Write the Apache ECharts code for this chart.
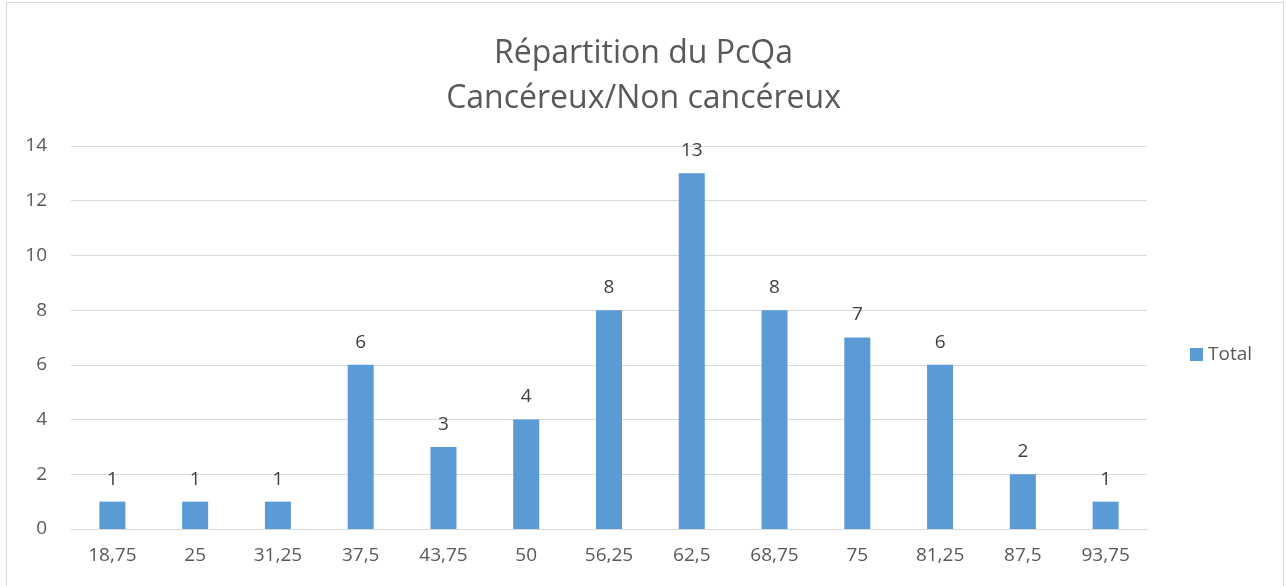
<!DOCTYPE html>
<html>
<head>
<meta charset="utf-8">
<script src="https://cdn.jsdelivr.net/npm/echarts@6/dist/echarts.min.js"></script>
<style>
  html, body { margin: 0; padding: 0; background: #fff; }
  #frame { position: absolute; left: 6px; top: 2px; width: 1276px; height: 610px; border: 1px solid #d9d9d9; }
  #chart { position: absolute; left: 0; top: 0; width: 1287px; height: 586px; }
</style>
</head>
<body>
<div id="frame"></div>
<div id="chart"></div>
<script>
// tranches de PcQa
const categories = ['18,75', '25', '31,25', '37,5', '43,75', '50', '56,25', '62,5', '68,75', '75', '81,25', '87,5', '93,75'];
const totals = [1, 1, 1, 6, 3, 4, 8, 13, 8, 7, 6, 2, 1];
const titleLines = ['Répartition du PcQa', 'Cancéreux/Non cancéreux'];
const seriesName = 'Total';

const chart = echarts.init(document.getElementById('chart'));
const font = '"Open Sans", "Noto Sans", sans-serif';

chart.setOption({
    animation: false,
    textStyle: { fontFamily: font },
    title: {
        text: titleLines.join('\n'),
        left: 'center',
        top: 26,
        textStyle: {
            fontFamily: font,
            fontSize: 32,
            fontWeight: 'normal',
            color: '#595959',
            lineHeight: 45
        }
    },
    legend: {
        data: [seriesName],
        orient: 'vertical',
        left: 1185,
        top: 340,
        itemWidth: 13,
        itemHeight: 13,
        icon: 'rect',
        textStyle: { fontFamily: font, fontSize: 19, color: '#595959' }
    },
    grid: { left: 71, right: 140, top: 146, bottom: 57 },
    xAxis: {
        type: 'category',
        data: categories,
        axisLine: { lineStyle: { color: '#d9d9d9', width: 1 } },
        axisTick: { show: false },
        axisLabel: { color: '#595959', fontSize: 19, margin: 17, fontFamily: font, interval: 0 }
    },
    yAxis: {
        type: 'value',
        min: 0,
        max: 14,
        interval: 2,
        axisLine: { show: false },
        axisTick: { show: false },
        splitLine: { lineStyle: { color: '#d9d9d9', width: 1 } },
        axisLabel: { color: '#595959', fontSize: 19, margin: 24, fontFamily: font }
    },
    series: [{
        name: seriesName,
        type: 'bar',
        data: totals,
        barWidth: 26,
        itemStyle: { color: '#5b9bd5' },
        label: {
            show: true,
            position: 'top',
            distance: 13,
            color: '#404040',
            fontSize: 19,
            fontFamily: font
        }
    }]
});
</script>
</body>
</html>
